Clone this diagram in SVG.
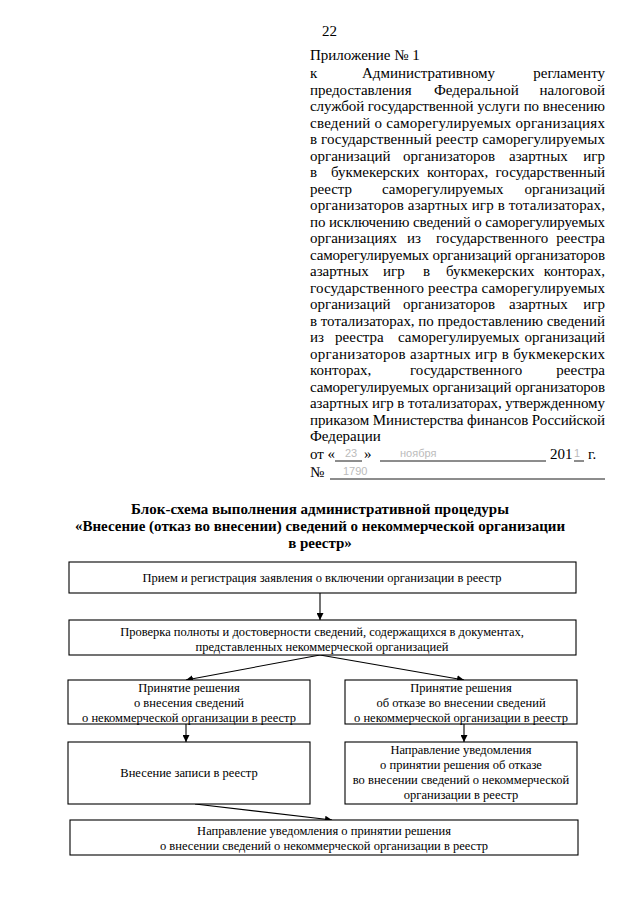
<svg xmlns="http://www.w3.org/2000/svg" width="640" height="905" viewBox="0 0 640 905">
<style>
.t{font-family:"Liberation Serif","Times New Roman",serif;font-size:15px;fill:#000}
.j{font-family:"Liberation Serif","Times New Roman",serif;font-size:15px;fill:#000}
.e{font-family:"Liberation Serif","Times New Roman",serif;font-size:15px;fill:#000;text-anchor:end}
.h{font-family:"Liberation Serif","Times New Roman",serif;font-size:15px;font-weight:bold;fill:#000;text-anchor:middle}
.n{font-family:"Liberation Serif","Times New Roman",serif;font-size:12.5px;fill:#000;text-anchor:middle}
.f{font-family:"Liberation Sans",Arial,sans-serif;font-size:11px;fill:#bbb}
.box{fill:#fff;stroke:#000;stroke-width:1.1}
.c{fill:none;stroke:#000;stroke-width:1.1}
.u{stroke:#000;stroke-width:0.9}
</style>
<defs>
<marker id="ah" viewBox="0 0 10 10" refX="10" refY="5" markerWidth="7" markerHeight="7" orient="auto" markerUnits="userSpaceOnUse">
<path d="M0,0 L10,5 L0,10 z" fill="#000"/>
</marker>
</defs>
<rect width="640" height="905" fill="#fff"/>

<g id="header">
<text class="t" x="322" y="36">22</text>
<text class="t" x="310" y="60">Приложение № 1</text>
<text class="t" x="310" y="78">к</text><text class="t" x="362" y="78">Административному</text><text class="e" x="605" y="78">регламенту</text>
<text class="t" x="310" y="94.5">предоставления</text><text class="t" x="434" y="94.5">Федеральной</text><text class="e" x="605" y="94.5">налоговой</text>
<text class="j" x="310" y="111" textLength="295" lengthAdjust="spacing">службой государственной услуги по внесению</text>
<text class="j" x="310" y="127.5" textLength="295" lengthAdjust="spacing">сведений о саморегулируемых организациях</text>
<text class="j" x="310" y="144" textLength="295" lengthAdjust="spacing">в государственный реестр саморегулируемых</text>
<text class="t" x="310" y="160.5">организаций</text><text class="t" x="403" y="160.5">организаторов</text><text class="t" x="509" y="160.5">азартных</text><text class="e" x="605" y="160.5">игр</text>
<text class="t" x="310" y="177">в</text><text class="t" x="331" y="177">букмекерских</text><text class="t" x="427" y="177">конторах,</text><text class="e" x="605" y="177">государственный</text>
<text class="t" x="310" y="193.5">реестр</text><text class="t" x="382" y="193.5">саморегулируемых</text><text class="e" x="605" y="193.5">организаций</text>
<text class="j" x="310" y="210" textLength="295" lengthAdjust="spacing">организаторов азартных игр в тотализаторах,</text>
<text class="j" x="310" y="226.5" textLength="295" lengthAdjust="spacing">по исключению сведений о саморегулируемых</text>
<text class="t" x="310" y="243">организациях</text><text class="t" x="407" y="243">из</text><text class="t" x="436" y="243">государственного</text><text class="e" x="605" y="243">реестра</text>
<text class="j" x="310" y="259.5" textLength="295" lengthAdjust="spacing">саморегулируемых организаций организаторов</text>
<text class="t" x="310" y="276">азартных</text><text class="t" x="383" y="276">игр</text><text class="t" x="423" y="276">в</text><text class="t" x="446" y="276">букмекерских</text><text class="e" x="605" y="276">конторах,</text>
<text class="j" x="310" y="292.5" textLength="295" lengthAdjust="spacing">государственного реестра саморегулируемых</text>
<text class="t" x="310" y="309">организаций</text><text class="t" x="403" y="309">организаторов</text><text class="t" x="509" y="309">азартных</text><text class="e" x="605" y="309">игр</text>
<text class="j" x="310" y="325.5" textLength="295" lengthAdjust="spacing">в тотализаторах, по предоставлению сведений</text>
<text class="t" x="310" y="342">из</text><text class="t" x="335" y="342">реестра</text><text class="t" x="398" y="342">саморегулируемых</text><text class="e" x="605" y="342">организаций</text>
<text class="j" x="310" y="358.5" textLength="295" lengthAdjust="spacing">организаторов азартных игр в букмекерских</text>
<text class="t" x="310" y="375">конторах,</text><text class="t" x="410" y="375">государственного</text><text class="e" x="605" y="375">реестра</text>
<text class="j" x="310" y="391.5" textLength="295" lengthAdjust="spacing">саморегулируемых организаций организаторов</text>
<text class="j" x="310" y="408" textLength="295" lengthAdjust="spacing">азартных игр в тотализаторах, утвержденному</text>
<text class="j" x="310" y="424.5" textLength="295" lengthAdjust="spacing">приказом Министерства финансов Российской</text>
<text class="t" x="310" y="441">Федерации</text>
<text class="t" x="310" y="459">от «</text>
<text class="f" x="345" y="457">23</text>
<text class="t" x="364" y="459">»</text>
<line class="u" x1="335" y1="461" x2="362" y2="461"/>
<line class="u" x1="380" y1="461" x2="546" y2="461"/>
<text class="f" x="400" y="457">ноября</text>
<text class="t" x="550" y="459">201</text>
<line class="u" x1="574" y1="461" x2="584" y2="461"/>
<text class="f" x="574" y="457">1</text>
<text class="t" x="588" y="459">г.</text>
<text class="t" x="310" y="477">№</text>
<line class="u" x1="330" y1="479" x2="605" y2="479"/>
<text class="f" x="343" y="475">1790</text>
</g>

<g id="title">
<text class="h" x="320" y="514">Блок-схема выполнения административной процедуры</text>
<text class="h" x="320" y="531">«Внесение (отказ во внесении) сведений о некоммерческой организации</text>
<text class="h" x="320" y="548">в реестр»</text>
</g>

<g id="connectors">
<line class="c" x1="320" y1="593" x2="320" y2="620" marker-end="url(#ah)"/>
<line class="c" x1="320" y1="655" x2="186" y2="680" marker-end="url(#ah)"/>
<line class="c" x1="320" y1="655" x2="464" y2="680" marker-end="url(#ah)"/>
<line class="c" x1="186" y1="724" x2="186" y2="742" marker-end="url(#ah)"/>
<line class="c" x1="464" y1="724" x2="464" y2="742" marker-end="url(#ah)"/>
<line class="c" x1="195" y1="804" x2="332" y2="820" marker-end="url(#ah)"/>
</g>

<g id="n1">
<rect class="box" x="69" y="562" width="507" height="31"/>
<text class="n" x="322" y="582">Прием и регистрация заявления о включении организации в реестр</text>
</g>
<g id="n2">
<rect class="box" x="69" y="620" width="507" height="35"/>
<text class="n" x="322" y="636">Проверка полноты и достоверности сведений, содержащихся в документах,</text>
<text class="n" x="322" y="651">представленных некоммерческой организацией</text>
</g>
<g id="n3">
<rect class="box" x="68" y="680" width="242" height="44"/>
<text class="n" x="189" y="692">Принятие решения</text>
<text class="n" x="189" y="707">о внесения сведений</text>
<text class="n" x="189" y="722">о некоммерческой организации в реестр</text>
</g>
<g id="n4">
<rect class="box" x="345" y="680" width="232" height="44"/>
<text class="n" x="461" y="692">Принятие решения</text>
<text class="n" x="461" y="707">об отказе во внесении сведений</text>
<text class="n" x="461" y="722">о некоммерческой организации в реестр</text>
</g>
<g id="n5">
<rect class="box" x="68" y="742" width="242" height="62"/>
<text class="n" x="189" y="777">Внесение записи в реестр</text>
</g>
<g id="n6">
<rect class="box" x="345" y="742" width="232" height="62"/>
<text class="n" x="461" y="754">Направление уведомления</text>
<text class="n" x="461" y="769">о принятии решения об отказе</text>
<text class="n" x="461" y="784">во внесении сведений о некоммерческой</text>
<text class="n" x="461" y="799">организации в реестр</text>
</g>
<g id="n7">
<rect class="box" x="70" y="820" width="508" height="35"/>
<text class="n" x="324" y="835">Направление уведомления о принятии решения</text>
<text class="n" x="324" y="850">о внесении сведений о некоммерческой организации в реестр</text>
</g>
</svg>
